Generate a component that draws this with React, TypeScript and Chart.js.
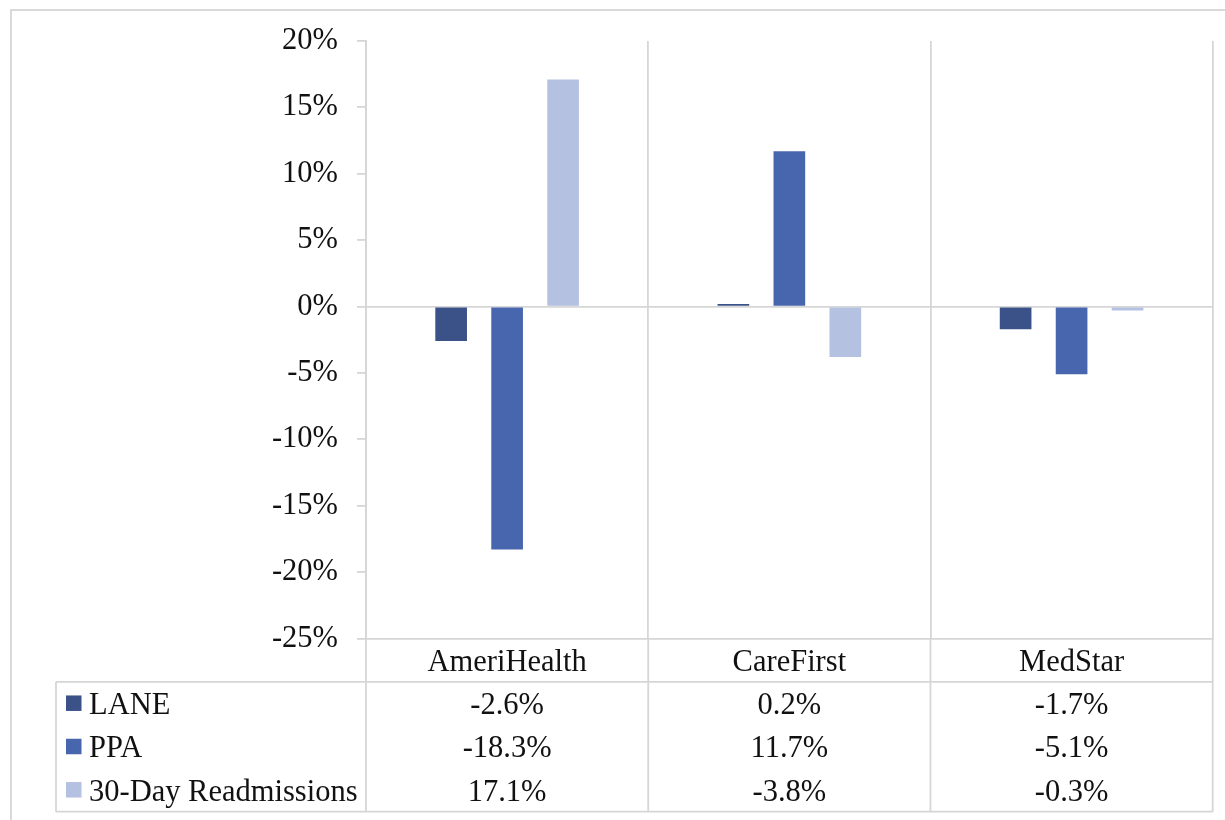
import React, { useEffect, useRef } from "react";
import { Chart, registerables } from "chart.js";

Chart.register(...registerables);

const categories = ["AmeriHealth", "CareFirst", "MedStar"];
const seriesNames = ["LANE", "PPA", "30-Day Readmissions"];
const laneValues = [-2.6, 0.2, -1.7];
const ppaValues = [-18.3, 11.7, -5.1];
const readmitValues = [17.1, -3.8, -0.3];
const seriesColors = ["#3b5289", "#4866ad", "#b4c1e0"];
const yMin = -25;
const yMax = 20;
const yStep = 5;

const FONT = "'Liberation Serif', 'Times New Roman', serif";
const FONT_SIZE = 30.5;
const LINE = "#d6d6d6";
const LW = 1.8;
const TEXT = "#111111";

const tablePlugin = {
  id: "dataTable",
  afterDraw(chart: any) {
    const ctx = chart.ctx as CanvasRenderingContext2D;
    const area = chart.chartArea;
    const xs = chart.scales.x;
    const n = categories.length;
    const half = (xs.getPixelForValue(1) - xs.getPixelForValue(0)) / 2;
    const bounds: number[] = [];
    for (let i = 0; i < n; i++) bounds.push(xs.getPixelForValue(i) - half);
    bounds.push(xs.getPixelForValue(n - 1) + half);

    const rowH = 43.3;
    const top = area.bottom;
    const headerBottom = top + rowH;
    const tableBottom = headerBottom + rowH * seriesNames.length;
    const legendLeft = 56;

    ctx.save();
    ctx.strokeStyle = LINE;
    ctx.lineWidth = LW;

    // outer chart border
    ctx.strokeRect(11, 10, 1240, 840);

    ctx.beginPath();
    for (const b of bounds) {
      ctx.moveTo(b, top);
      ctx.lineTo(b, tableBottom);
    }
    ctx.moveTo(legendLeft, headerBottom);
    ctx.lineTo(bounds[n], headerBottom);
    ctx.moveTo(legendLeft, tableBottom);
    ctx.lineTo(bounds[n], tableBottom);
    ctx.moveTo(legendLeft, headerBottom);
    ctx.lineTo(legendLeft, tableBottom);
    ctx.stroke();

    ctx.fillStyle = TEXT;
    ctx.font = `${FONT_SIZE}px ${FONT}`;
    ctx.textBaseline = "alphabetic";
    ctx.textAlign = "center";
    for (let i = 0; i < n; i++) {
      const cx = (bounds[i] + bounds[i + 1]) / 2;
      ctx.fillText(categories[i], cx, top + rowH / 2 + 10.5);
    }

    const datasets = chart.data.datasets;
    for (let r = 0; r < datasets.length; r++) {
      const cy = headerBottom + rowH * r + rowH / 2;
      const vals = datasets[r].data as number[];
      ctx.textAlign = "center";
      ctx.fillStyle = TEXT;
      for (let i = 0; i < n; i++) {
        const cx = (bounds[i] + bounds[i + 1]) / 2;
        ctx.fillText(vals[i].toFixed(1) + "%", cx, cy + 10.5);
      }
      ctx.fillStyle = datasets[r].backgroundColor as string;
      ctx.fillRect(66, cy - 8, 15.5, 15.5);
      ctx.fillStyle = TEXT;
      ctx.textAlign = "left";
      ctx.fillText(datasets[r].label, 89, cy + 10.5);
    }
    ctx.restore();
  },
};

export default function App() {
  const ref = useRef<HTMLCanvasElement | null>(null);

  useEffect(() => {
    if (!ref.current) return;
    const seriesValues = [laneValues, ppaValues, readmitValues];
    const chart = new Chart(ref.current, {
      type: "bar",
      data: {
        labels: categories,
        datasets: seriesNames.map((name, i) => ({
          label: name,
          data: seriesValues[i],
          backgroundColor: seriesColors[i],
          borderWidth: 0,
          categoryPercentage: 0.595,
          barPercentage: 0.566,
        })),
      },
      options: {
        responsive: false,
        animation: false,
        layout: { padding: { left: 0, top: 41, right: 12.3, bottom: 181.5 } },
        plugins: {
          legend: { display: false },
          tooltip: { enabled: false },
        },
        scales: {
          x: {
            offset: true,
            ticks: { display: false },
            grid: {
              display: true,
              offset: true,
              color: LINE,
              lineWidth: LW,
              drawTicks: false,
            },
            border: { display: true, color: LINE, width: LW },
            afterFit: (axis: any) => {
              axis.height = 0;
            },
          },
          y: {
            min: yMin,
            max: yMax,
            ticks: {
              stepSize: yStep,
              padding: 19,
              color: TEXT,
              font: { family: FONT, size: FONT_SIZE },
              callback: (v: any) => `${v}%`,
            },
            grid: {
              color: (c: any) => (c.tick && c.tick.value === 0 ? LINE : "rgba(0,0,0,0)"),
              tickColor: LINE,
              tickLength: 9,
              lineWidth: LW,
            },
            border: { display: true, color: LINE, width: LW },
            afterFit: (axis: any) => {
              axis.width = 366;
            },
          },
        },
      },
      plugins: [tablePlugin],
    } as any);
    return () => chart.destroy();
  }, []);

  return (
    <div style={{ position: "fixed", left: 0, top: 0, width: 1225, height: 820, background: "#fff" }}>
      <canvas ref={ref} width={1225} height={820} style={{ width: 1225, height: 820, display: "block" }} />
    </div>
  );
}
